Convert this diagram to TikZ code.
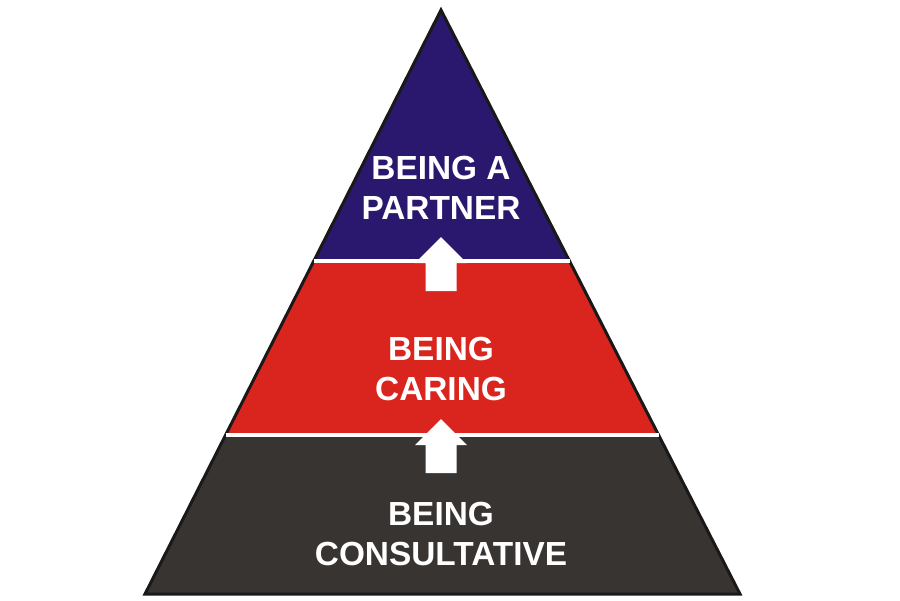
\documentclass[tikz,border=0pt]{standalone}
\usepackage{fontspec}
\setmainfont{Liberation Sans}
\usetikzlibrary{calc}
\definecolor{partnerblue}{RGB}{42,23,110}
\definecolor{caringred}{RGB}{217,37,29}
\definecolor{consultgray}{RGB}{56,52,50}

\begin{document}
\begin{tikzpicture}[x=0.02cm, y=-0.02cm, line join=miter,
        every node/.append style={font=\fontsize{19}{22.7}\selectfont\bfseries, text=white, align=center}]
      \tikzstyle{divider} = [white, line width=2.3pt]
      \tikzstyle{rim} = [black!90, line width=1.7pt]
      \useasboundingbox (0,0) rectangle (900,600);
      \coordinate (apex) at (441,10);
      \coordinate (bl) at (145,594);
      \coordinate (br) at (740,594);
      \coordinate (l1) at ($(apex)!0.4298!(bl)$);
      \coordinate (r1) at ($(apex)!0.4298!(br)$);
      \coordinate (l2) at ($(apex)!0.7277!(bl)$);
      \coordinate (r2) at ($(apex)!0.7277!(br)$);
      % the three levels
      \fill[partnerblue] (apex) -- (r1) -- (l1) -- cycle;
      \fill[caringred] (l1) -- (r1) -- (r2) -- (l2) -- cycle;
      \fill[consultgray] (l2) -- (r2) -- (br) -- (bl) -- cycle;
      \draw[rim] (apex) -- (br) -- (bl) -- cycle;
      \draw[divider] (l1) -- (r1);
      \draw[divider] (l2) -- (r2);
      % block arrows between the levels
      \foreach \tip in {237,419}
        \fill[white] (441,\tip) -- ++(26,26) -- ++(-10.5,0) -- ++(0,28) -- ++(-31,0)
          -- ++(0,-28) -- ++(-10.5,0) -- cycle;
      \node (partner) at (441,188) {BEING A\\PARTNER};
      \node (caring) at (441,369) {BEING\\CARING};
      \node (consult) at (441,534) {BEING\\CONSULTATIVE};
    \end{tikzpicture}
\end{document}
